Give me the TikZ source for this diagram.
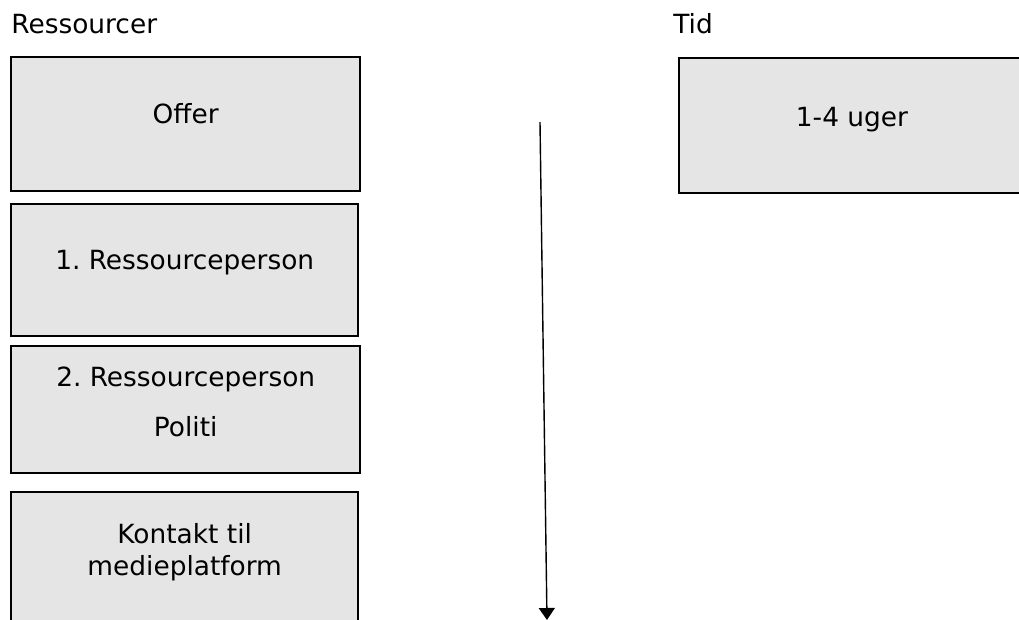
\documentclass[tikz,border=0pt]{standalone}
\usepackage{fontspec}
\setmainfont{DejaVu Sans}
\usepackage{xcolor}
\usetikzlibrary{arrows.meta}
\definecolor{boxgray}{RGB}{229,229,229}
\frenchspacing

\begin{document}
\begin{tikzpicture}[x=0.5pt, y=-0.5pt, font=\fontsize{13.2}{16}\selectfont]
    % Define styles
    \tikzset{resbox/.style={rectangle, draw, line width=1.2pt, fill=boxgray, anchor=north west, inner sep=0pt}}
    \tikzset{boxlabel/.style={anchor=base, inner sep=0pt, align=center}}
    \tikzset{timeline/.style={draw, line width=0.7pt, -{Triangle[width=8pt,length=6pt]}}}

    \clip (0,0) rectangle (1019,620);

    % Headings
    \node [anchor=base west, inner sep=0pt] (reshead) at (11,34) {Ressourcer};
    \node [anchor=base west, inner sep=0pt] (tidhead) at (673,34) {Tid};

    % Boxes
    \node [resbox, minimum width=174.5pt, minimum height=67pt] (offer) at (10,56) {};
    \node [resbox, minimum width=173.5pt, minimum height=66pt] (person1) at (10,203) {};
    \node [resbox, minimum width=174.5pt, minimum height=63.5pt] (person2) at (10,345) {};
    \node [resbox, minimum width=173.5pt, minimum height=70pt] (medie) at (10,491) {};
    \node [resbox, minimum width=180pt, minimum height=67.5pt] (uger) at (678,57) {};

    % Box texts
    \node [boxlabel] (offertxt) at (offer.north |- 0,124) {Offer};
    \node [boxlabel] (person1txt) at (person1.north |- 0,270) {1. Ressourceperson};
    \node [boxlabel] (person2txt) at (person2.north |- 0,387) {2. Ressourceperson};
    \node [boxlabel] (politxt) at (person2.north |- 0,437) {Politi};
    \node [boxlabel] (medietxt) at (medie.north |- 0,575) {Kontakt til\\medieplatform};
    \node [boxlabel] (ugertxt) at (852,127) {1-4 uger};

    % Time arrow
    \coordinate (tstart) at (540,122);
    \coordinate (tend) at (547,620);
    \path [timeline] (tstart) -- (tend);
\end{tikzpicture}
\end{document}
